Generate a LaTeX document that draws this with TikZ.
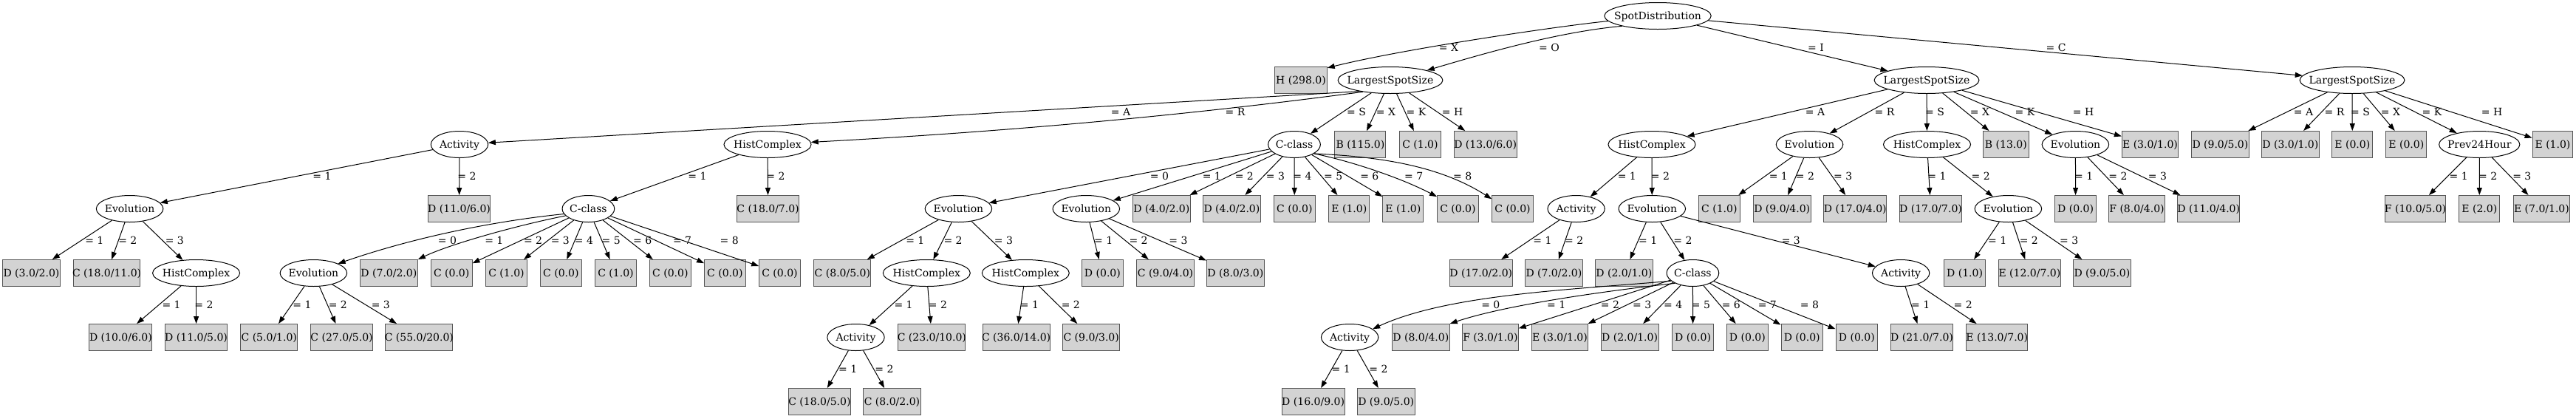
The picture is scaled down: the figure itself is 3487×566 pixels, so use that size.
\documentclass[tikz,border=0pt]{standalone}
\usepackage{fontspec}
\setmainfont{DejaVu Serif}
\newfontfamily\timesf{Liberation Serif}
\usetikzlibrary{shapes.geometric,arrows.meta}
\definecolor{leafgray}{HTML}{D3D3D3}
\definecolor{leafline}{HTML}{555555}
\newlength\twd
\newcommand\tw[1]{\settowidth{\twd}{\timesf #1}\makebox[\twd][c]{#1}}
\newcommand\lf[3]{\node[leaf] (#1) at (#2) {\tw{#3}};}
\newcommand\el[3]{\node[ell] (#1) at (#2) {\tw{#3}};}
\newcommand\edg[5]{\draw[edge] (#1) -- (#2); \node[lab] (l-#2) at (#4,#5) {= #3};}
\newcommand\edgc[6]{\draw[edge] #1 #2 (#3); \node[lab] (l-#3) at (#5,#6) {= #4};}
\begin{document}
\begin{tikzpicture}[x=1pt,y=1pt,font=\fontsize{14pt}{16pt}\selectfont,
 ell/.style={ellipse,draw,line width=1pt,minimum height=36pt,inner xsep=4.4pt,inner ysep=0pt,text height=10.2pt,text depth=0pt},
 leaf/.style={rectangle,draw=leafline,fill=leafgray,line width=1pt,minimum height=36pt,minimum width=54pt,inner xsep=8pt,inner ysep=0pt,text height=10.2pt,text depth=0pt},
 edge/.style={-{Triangle[length=10pt,width=7pt]},line width=1pt},
 lab/.style={inner sep=0pt,anchor=center,text height=10.2pt,text depth=0pt}]
\useasboundingbox (0,0) rectangle (3487,-566);
% row 0-1
\el{sd}{2244,-21.5}{SpotDistribution}
\lf{h298}{1761,-108.5}{H (298.0)}
\el{lo}{1882,-108.5}{LargestSpotSize}
\el{li}{2608,-108.5}{LargestSpotSize}
\el{lc}{3184,-108.5}{LargestSpotSize}
\edgc{(sd.186)}{.. controls (2120,-34) and (1905,-65) ..}{h298.25}{X}{1961}{-64}
\edgc{(sd.196)}{.. controls (2110,-43) and (2010,-72) ..}{lo.15}{O}{2097}{-64}
\edg{sd}{li}{I}{2458}{-64}
\edg{sd}{lc}{C}{2783}{-64}
% row 2 (O)
\el{oA}{622,-195.5}{Activity}
\el{oR}{1039,-195.5}{HistComplex}
\el{oS}{1752,-195.5}{C-class}
\lf{oX}{1841.4,-195.5}{B (115.0)}
\lf{oK}{1922.4,-195.5}{C (1.0)}
\lf{oH}{2010.6,-195.5}{D (13.0/6.0)}
\edgc{(lo.200)}{--}{oA}{A}{1517}{-151}
\edgc{(lo.203)}{.. controls (1592,-158) and (1347,-179) ..}{oR.3}{R}{1672}{-151}
\edg{lo}{oS}{S}{1836}{-151}
\edg{lo}{oX}{X}{1876}{-151}
\edg{lo}{oK}{K}{1917}{-151}
\edg{lo}{oH}{H}{1966}{-151}
% row 2 (I)
\el{iA}{2236,-195.5}{HistComplex}
\el{iR}{2449.5,-195.5}{Evolution}
\el{iS}{2608.5,-195.5}{HistComplex}
\lf{iX}{2715.3,-195.5}{B (13.0)}
\el{iK}{2809.4,-195.5}{Evolution}
\lf{iH}{2910.5,-195.5}{E (3.0/1.0)}
\edg{li}{iA}{A}{2457}{-151}
\edg{li}{iR}{R}{2551}{-151}
\edg{li}{iS}{S}{2619}{-151}
\edg{li}{iX}{X}{2680}{-151}
\edg{li}{iK}{K}{2741}{-151}
\edg{li}{iH}{H}{2820}{-151}
% row 2 (C)
\lf{cA}{3005.4,-195.5}{D (9.0/5.0)}
\lf{cR}{3100.3,-195.5}{D (3.0/1.0)}
\lf{cS}{3184.3,-195.5}{E (0.0)}
\lf{cX}{3257.3,-195.5}{E (0.0)}
\el{cK}{3356.2,-195.5}{Prev24Hour}
\lf{cH}{3455.5,-195.5}{E (1.0)}
\edg{lc}{cA}{A}{3118}{-151}
\edg{lc}{cR}{R}{3160}{-151}
\edg{lc}{cS}{S}{3195}{-151}
\edg{lc}{cX}{X}{3236}{-151}
\edg{lc}{cK}{K}{3292}{-151}
\edg{lc}{cH}{H}{3373}{-151}
% row 3
\el{oA1}{175.6,-282.5}{Evolution}
\lf{oA2}{621.6,-282.5}{D (11.0/6.0)}
\edg{oA}{oA1}{1}{436}{-238}
\edg{oA}{oA2}{2}{632}{-238}
\el{oR1}{796.4,-282.5}{C-class}
\lf{oR2}{1039.6,-282.5}{C (18.0/7.0)}
\edg{oR}{oR1}{1}{944}{-238}
\edg{oR}{oR2}{2}{1050}{-238}
\el{oS0}{1297.4,-282.5}{Evolution}
\el{oS1}{1470.3,-282.5}{Evolution}
\lf{oS2}{1572.3,-282.5}{D (4.0/2.0)}
\lf{oS3}{1667.4,-282.5}{D (4.0/2.0)}
\lf{oS4}{1752.3,-282.5}{C (0.0)}
\lf{oS5}{1826.3,-282.5}{E (1.0)}
\lf{oS6}{1899.4,-282.5}{E (1.0)}
\lf{oS7}{1973.4,-282.5}{C (0.0)}
\lf{oS8}{2047.5,-282.5}{C (0.0)}
\edg{oS}{oS0}{0}{1569.5}{-238}
\edg{oS}{oS1}{1}{1640.3}{-238}
\edg{oS}{oS2}{2}{1684.3}{-238}
\edg{oS}{oS3}{3}{1726.4}{-238}
\edg{oS}{oS4}{4}{1763}{-238}
\edg{oS}{oS5}{5}{1804.7}{-238}
\edg{oS}{oS6}{6}{1853.8}{-238}
\edgc{(oS.-25)}{.. controls (1825,-217) and (1895,-240) ..}{oS7.150}{7}{1913.7}{-238}
\edgc{(oS.-25)}{.. controls (1870,-212) and (1950,-225) ..}{oS8.155}{8}{1979.6}{-238}
\el{iA1}{2133.6,-282.5}{Activity}
\el{iA2}{2236.3,-282.5}{Evolution}
\edg{iA}{iA1}{1}{2202.3}{-238}
\edg{iA}{iA2}{2}{2247.4}{-238}
\lf{iR1}{2327.3,-282.5}{C (1.0)}
\lf{iR2}{2412.2,-282.5}{D (9.0/4.0)}
\lf{iR3}{2511.3,-282.5}{D (17.0/4.0)}
\edg{iR}{iR1}{1}{2407.3}{-238}
\edg{iR}{iR2}{2}{2443.4}{-238}
\edg{iR}{iR3}{3}{2494.7}{-238}
\lf{iS1}{2613.5,-282.5}{D (17.0/7.0)}
\el{iS2}{2718.4,-282.5}{Evolution}
\edg{iS}{iS1}{1}{2622}{-238}
\edg{iS}{iS2}{2}{2681.2}{-238}
\lf{iK1}{2809.6,-282.5}{D (0.0)}
\lf{iK2}{2892.5,-282.5}{F (8.0/4.0)}
\lf{iK3}{2989.7,-282.5}{D (11.0/4.0)}
\edg{iK}{iK1}{1}{2820.6}{-238}
\edg{iK}{iK2}{2}{2866.9}{-238}
\edg{iK}{iK3}{3}{2920.4}{-238}
\lf{cK1}{3269.5,-282.5}{F (10.0/5.0)}
\lf{cK2}{3356.3,-282.5}{E (2.0)}
\lf{cK3}{3440.4,-282.5}{E (7.0/1.0)}
\edg{cK}{cK1}{1}{3328.1}{-238}
\edg{cK}{cK2}{2}{3367.6}{-238}
\edg{cK}{cK3}{3}{3413.8}{-238}
% row 4
\lf{a1}{42.5,-369.5}{D (3.0/2.0)}
\lf{a2}{144.6,-369.5}{C (18.0/11.0)}
\el{a3}{265.6,-369.5}{HistComplex}
\edg{oA1}{a1}{1}{127.8}{-325}
\edg{oA1}{a2}{2}{172.8}{-325}
\edg{oA1}{a3}{3}{236.3}{-325}
\el{r0}{424.4,-369.5}{Evolution}
\lf{r1}{526.4,-369.5}{D (7.0/2.0)}
\lf{r2}{611.2,-369.5}{C (0.0)}
\lf{r3}{685.5,-369.5}{C (1.0)}
\lf{r4}{759.4,-369.5}{C (0.0)}
\lf{r5}{833.5,-369.5}{C (1.0)}
\lf{r6}{907.4,-369.5}{C (0.0)}
\lf{r7}{981.4,-369.5}{C (0.0)}
\lf{r8}{1055.5,-369.5}{C (0.0)}
\edgc{(oR1.192)}{.. controls (680,-298) and (570,-318) ..}{r0.21}{0}{605.4}{-325}
\edgc{(oR1.197)}{.. controls (700,-305) and (610,-330) ..}{r1.north east}{1}{668.8}{-325}
\edg{oR1}{r2}{2}{721.6}{-325}
\edg{oR1}{r3}{3}{758.3}{-325}
\edg{oR1}{r4}{4}{790.5}{-325}
\edg{oR1}{r5}{5}{827.2}{-325}
\edg{oR1}{r6}{6}{869.7}{-325}
\edg{oR1}{r7}{7}{923.6}{-325}
\edg{oR1}{r8}{8}{987.2}{-325}
\lf{s01}{1140.4,-369.5}{C (8.0/5.0)}
\el{s02}{1254.3,-369.5}{HistComplex}
\el{s03}{1388.3,-369.5}{HistComplex}
\edg{oS0}{s01}{1}{1238.8}{-325}
\edg{oS0}{s02}{2}{1290.1}{-325}
\edg{oS0}{s03}{3}{1358.4}{-325}
\lf{s11}{1492.4,-369.5}{D (0.0)}
\lf{s12}{1577.5,-369.5}{C (9.0/4.0)}
\lf{s13}{1672.4,-369.5}{D (8.0/3.0)}
\edg{oS1}{s11}{1}{1493.7}{-325}
\edg{oS1}{s12}{2}{1541.1}{-325}
\edg{oS1}{s13}{3}{1594.9}{-325}
\lf{ia11}{2004.8,-369.5}{D (17.0/2.0)}
\lf{ia12}{2103.4,-369.5}{D (7.0/2.0)}
\edg{iA1}{ia11}{1}{2087.9}{-325}
\edg{iA1}{ia12}{2}{2130.7}{-325}
\lf{ia21}{2198.3,-369.5}{D (2.0/1.0)}
\el{ia22}{2291.4,-369.5}{C-class}
\el{ia23}{2573.1,-369.5}{Activity}
\edg{iA2}{ia21}{1}{2230.6}{-325}
\edg{iA2}{ia22}{2}{2278}{-325}
\edg{iA2}{ia23}{3}{2424.3}{-325}
\lf{is21}{2659.6,-369.5}{D (1.0)}
\lf{is22}{2747.4,-369.5}{E (12.0/7.0)}
\lf{is23}{2845.4,-369.5}{D (9.0/5.0)}
\edg{iS2}{is21}{1}{2703.6}{-325}
\edg{iS2}{is22}{2}{2746.3}{-325}
\edg{iS2}{is23}{3}{2800.6}{-325}
% row 5
\lf{a31}{163.4,-456.5}{D (10.0/6.0)}
\lf{a32}{265.6,-456.5}{D (11.0/5.0)}
\edg{a3}{a31}{1}{232.1}{-412}
\edg{a3}{a32}{2}{275.9}{-412}
\lf{r01}{364.3,-456.5}{C (5.0/1.0)}
\lf{r02}{462.6,-456.5}{C (27.0/5.0)}
\lf{r03}{567.4,-456.5}{C (55.0/20.0)}
\edg{r0}{r01}{1}{409}{-412}
\edg{r0}{r02}{2}{457.3}{-412}
\edg{r0}{r03}{3}{515.3}{-412}
\el{s021}{1158.5,-456.5}{Activity}
\lf{s022}{1261.4,-456.5}{C (23.0/10.0)}
\edg{s02}{s021}{1}{1223.1}{-412}
\edg{s02}{s022}{2}{1269.4}{-412}
\lf{s031}{1375.6,-456.5}{C (36.0/14.0)}
\lf{s032}{1477.2,-456.5}{C (9.0/3.0)}
\edg{s03}{s031}{1}{1393.4}{-412}
\edg{s03}{s032}{2}{1449.3}{-412}
\el{c0}{1827.1,-456.5}{Activity}
\lf{c1}{1923.3,-456.5}{D (8.0/4.0)}
\lf{c2}{2017.4,-456.5}{F (3.0/1.0)}
\lf{c3}{2111.4,-456.5}{E (3.0/1.0)}
\lf{c4}{2206.1,-456.5}{D (2.0/1.0)}
\lf{c5}{2291.6,-456.5}{D (0.0)}
\lf{c6}{2365.4,-456.5}{D (0.0)}
\lf{c7}{2439.2,-456.5}{D (0.0)}
\lf{c8}{2513.3,-456.5}{D (0.0)}
\edgc{(ia22.200)}{.. controls (2130,-392) and (1960,-398) ..}{c0.20}{0}{2017.8}{-412}
\edgc{(ia22.210)}{.. controls (2180,-393) and (2040,-412) ..}{c1.north east}{1}{2106.6}{-412}
\edg{ia22}{c2}{2}{2179.5}{-412}
\edg{ia22}{c3}{3}{2222.6}{-412}
\edg{ia22}{c4}{4}{2264.7}{-412}
\edg{ia22}{c5}{5}{2302.5}{-412}
\edg{ia22}{c6}{6}{2343.3}{-412}
\edg{ia22}{c7}{7}{2392.3}{-412}
\edg{ia22}{c8}{8}{2449.5}{-412}
\lf{ia231}{2601.5,-456.5}{D (21.0/7.0)}
\lf{ia232}{2703.2,-456.5}{E (13.0/7.0)}
\edg{ia23}{ia231}{1}{2599.7}{-412}
\edg{ia23}{ia232}{2}{2657.1}{-412}
% row 6
\lf{s0211}{1109.4,-543.5}{C (18.0/5.0)}
\lf{s0212}{1207.5,-543.5}{C (8.0/2.0)}
\edg{s021}{s0211}{1}{1147.7}{-499}
\edg{s021}{s0212}{2}{1196.9}{-499}
\lf{c01}{1777.6,-543.5}{D (16.0/9.0)}
\lf{c02}{1876.2,-543.5}{D (9.0/5.0)}
\edg{c0}{c01}{1}{1815.2}{-499}
\edg{c0}{c02}{2}{1865.9}{-499}
\end{tikzpicture}
\end{document}
